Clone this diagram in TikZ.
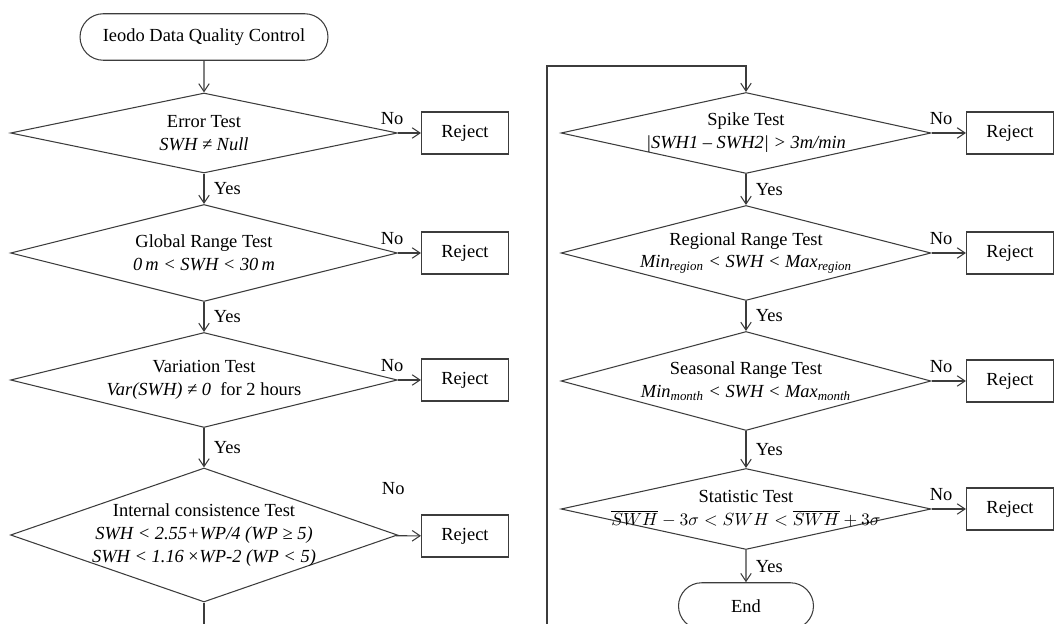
\documentclass[tikz,border=0pt]{standalone}
\usepackage{fontspec}
\setmainfont{Liberation Serif}
\usetikzlibrary{shapes.geometric, shapes.misc, arrows.meta, positioning}
\definecolor{LineGray}{RGB}{60, 60, 60}

\begin{document}
\begin{tikzpicture}[
    x=0.02cm, y=-0.02cm,
    font=\fontsize{10.5}{13}\selectfont,
    terminal/.style={rounded rectangle, draw=LineGray, line width=0.6pt, inner sep=0pt, minimum height=0.93cm},
    decision/.style={diamond, draw=LineGray, line width=0.6pt, inner sep=0pt, minimum width=7.74cm},
    txt/.style={align=center, inner sep=0pt},
    reject/.style={rectangle, draw=LineGray, line width=0.6pt, minimum width=1.74cm, minimum height=0.84cm},
    arrow/.style={-{Straight Barb[length=4.5pt, width=6pt]}, line width=0.6pt, LineGray},
    yes/.style={midway, right=2pt, text=black},
    no/.style={pos=0, above=1pt, text=black}
  ]
    \useasboundingbox (0,0) rectangle (1055,624);

    % Start
    \node[terminal, minimum width=4.96cm] (start) at (204,37) {Ieodo Data Quality Control};

    % Left column tests
    \node[decision, minimum height=1.6cm] (err) at (204,133) {};
    \node[txt] (errtxt) at (err) {Error Test\\\textit{SWH ≠ Null}};
    \node[decision, minimum height=1.94cm] (glob) at (204,253) {};
    \node[txt] (globtxt) at (glob) {Global Range Test\\\textit{0\,m < SWH < 30\,m}};
    \node[decision, minimum height=1.9cm] (var) at (204,380) {};
    \node[txt] (vartxt) at (var) {Variation Test\\\textit{Var(SWH) ≠ 0}\ \ for 2 hours};
    \node[decision, minimum height=2.68cm] (intl) at (204,535) {};
    \node[txt] (intltxt) at (intl) {Internal consistence Test\\\textit{SWH < 2.55+WP/4 (WP ≥ 5)}\\\textit{SWH < 1.16\,×WP-2 (WP < 5)}};

    % Right column tests
    \node[decision, minimum width=7.4cm, minimum height=1.62cm] (spike) at (746,133) {};
    \node[txt] (spiketxt) at (spike) {Spike Test\\\textit{|SWH1 – SWH2| > 3m/min}};
    \node[decision, minimum width=7.4cm, minimum height=1.9cm] (regn) at (746,253) {};
    \node[txt] (regntxt) at (regn) {Regional Range Test\\\textit{Min}\textsubscript{\textit{region}}\textit{ < SWH < Max}\textsubscript{\textit{region}}};
    \node[decision, minimum width=7.4cm, minimum height=1.98cm] (seas) at (746,381) {};
    \node[txt] (seastxt) at (seas) {Seasonal Range Test\\\textit{Min}\textsubscript{\textit{month}}\textit{ < SWH < Max}\textsubscript{\textit{month}}};
    \node[decision, minimum width=7.4cm, minimum height=1.62cm] (stat) at (746,509) {};
    \node[txt] (stattxt) at (stat) {Statistic Test\\{\fontsize{10}{12}\selectfont$\overline{SWH}-3\sigma<SWH<\overline{SWH}+3\sigma$}};

    % End
    \node[terminal, minimum width=2.7cm] (end) at (746,606) {End};

    % Reject boxes
    \foreach \n/\y in {1/133, 2/253, 3/380, 4/536}
      \node[reject] (rejL\n) at (465,\y) {Reject};
    \foreach \n/\y in {1/133, 2/253, 3/381, 4/509}
      \node[reject] (rejR\n) at (1010,\y) {Reject};

    % Connections: left column
    \draw[arrow] (start) -- (err);
    \foreach \a/\b in {err/glob, glob/var, var/intl} {
      \draw[arrow] (\a) -- node[yes] {Yes} (\b);
    }
    \foreach \a/\n in {err/1, glob/2, var/3} {
      \draw[arrow] (\a) -- node[no, xshift=-3.4pt] {No} (rejL\n);
    }
    \draw[arrow] (intl) -- node[pos=0, above=20pt, xshift=-1.5pt, text=black] {No} (rejL4);

    % Loop to the right column
    \coordinate (turn) at (547,66);
    \draw[arrow] (intl.south) -- ++(0,50) -| (turn) -| (spike.north);

    % Connections: right column
    \foreach \a/\b in {spike/regn, regn/seas, seas/stat, stat/end} {
      \draw[arrow] (\a) -- node[yes] {Yes} (\b);
    }
    \foreach \a/\n in {spike/1, regn/2, seas/3, stat/4} {
      \draw[arrow] (\a) -- node[no, xshift=5.5pt] {No} (rejR\n);
    }
  \end{tikzpicture}
\end{document}
